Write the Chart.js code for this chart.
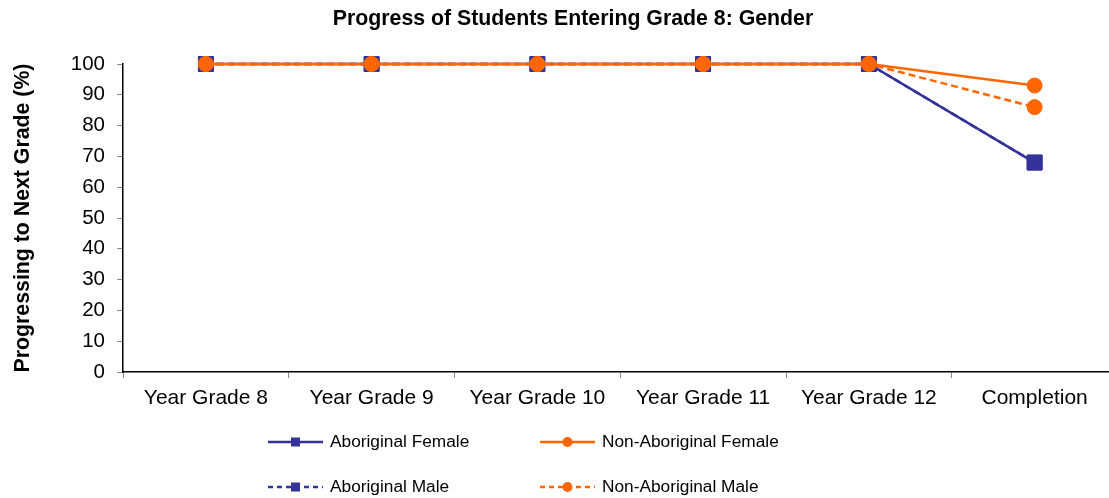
<!DOCTYPE html>
<html>
<head>
<meta charset="utf-8">
<script src="https://cdn.jsdelivr.net/npm/chart.js@4/dist/chart.umd.min.js"></script>
<style>
  html, body { margin: 0; padding: 0; background: #fff; overflow: hidden; }
  #wrap { width: 1129px; height: 498px; }
</style>
</head>
<body>
<div id="wrap"><canvas id="chart" width="1129" height="498"></canvas></div>
<script>
const categories = ['Year Grade 8', 'Year Grade 9', 'Year Grade 10', 'Year Grade 11', 'Year Grade 12', 'Completion'];
const aboriginalFemale = [100, 100, 100, 100, 100, 68];
const aboriginalMale = [100, 100, 100, 100, 100, 68];
const nonAboriginalFemale = [100, 100, 100, 100, 100, 93];
const nonAboriginalMale = [100, 100, 100, 100, 100, 86];
const yTicks = [0, 10, 20, 30, 40, 50, 60, 70, 80, 90, 100];

const NAVY = '#333399';
const ORANGE = '#FF6600';
const FONT = "'Liberation Sans', Arial, sans-serif";

function series(label, data, color, dashed, square) {
  return {
    label: label,
    data: data,
    borderColor: color,
    backgroundColor: color,
    borderWidth: 2.5,
    borderDash: dashed ? [7, 4] : [],
    pointStyle: square ? 'rect' : 'circle',
    pointRadius: square ? 10.5 : 7.5,
    pointBorderWidth: 1,
    pointBorderColor: color,
    pointBackgroundColor: color,
    order: square ? 2 : 1,
    clip: false,
    tension: 0
  };
}

// title drawn centred over the plot rather than the whole canvas
const titlePlugin = {
  id: 'plotTitle',
  afterDraw(chart) {
    const ctx = chart.ctx;
    ctx.save();
    ctx.font = 'bold 21.3px ' + FONT;
    ctx.fillStyle = '#000';
    ctx.textAlign = 'center';
    ctx.textBaseline = 'middle';
    ctx.fillText('Progress of Students Entering Grade 8: Gender', 573, 19);
    ctx.restore();
  }
};

// two-column legend below the axis
const legendPlugin = {
  id: 'gridLegend',
  afterDraw(chart) {
    const ctx = chart.ctx;
    const cols = [268, 540];
    const rows = [442, 487];
    const slots = [[0, 0], [0, 1], [1, 0], [1, 1]]; // [col, row] per dataset
    chart.data.datasets.forEach((ds, i) => {
      const x = cols[slots[i][0]];
      const y = rows[slots[i][1]];
      const len = 55;
      const cx = x + len / 2;
      ctx.save();
      ctx.strokeStyle = ds.borderColor;
      ctx.lineWidth = 2.5;
      ctx.setLineDash(ds.borderDash.length ? [5, 4] : []);
      ctx.beginPath();
      ctx.moveTo(x, y);
      ctx.lineTo(x + len, y);
      ctx.stroke();
      ctx.fillStyle = ds.backgroundColor;
      ctx.beginPath();
      if (ds.pointStyle === 'rect') {
        ctx.rect(cx - 4.5, y - 4.5, 9, 9);
      } else {
        ctx.arc(cx, y, 5, 0, Math.PI * 2);
      }
      ctx.fill();
      ctx.font = '17.3px ' + FONT;
      ctx.fillStyle = '#000';
      ctx.textAlign = 'left';
      ctx.textBaseline = 'middle';
      ctx.fillText(ds.label, x + len + 7, y);
      ctx.restore();
    });
  }
};

new Chart(document.getElementById('chart'), {
  type: 'line',
  data: {
    labels: categories,
    datasets: [
      series('Aboriginal Female', aboriginalFemale, NAVY, false, true),
      series('Aboriginal Male', aboriginalMale, NAVY, true, true),
      series('Non-Aboriginal Female', nonAboriginalFemale, ORANGE, false, false),
      series('Non-Aboriginal Male', nonAboriginalMale, ORANGE, true, false)
    ]
  },
  options: {
    responsive: false,
    animation: false,
    layout: { padding: { top: 64, left: 0, right: 0, bottom: 0 } },
    plugins: {
      legend: { display: false },
      title: { display: false },
      tooltip: { enabled: false }
    },
    scales: {
      x: {
        offset: true,
        grid: { offset: true, drawOnChartArea: false, tickLength: 6, color: '#888' },
        border: { color: '#000', width: 1.5 },
        ticks: { color: '#000', font: { family: FONT, size: 21 }, padding: 8, maxRotation: 0 },
        afterFit(scale) { scale.height = 126; }
      },
      y: {
        min: 0,
        max: 100,
        afterBuildTicks(scale) { scale.ticks = yTicks.map(v => ({ value: v })); },
        grid: { drawOnChartArea: false, tickLength: 6, color: '#888' },
        border: { color: '#000', width: 1.5 },
        ticks: { color: '#000', font: { family: FONT, size: 20.5 }, padding: 12 },
        title: {
          display: true,
          text: 'Progressing to Next Grade (%)',
          color: '#000',
          font: { family: FONT, size: 21.3, weight: 'bold' },
          padding: { top: 10, bottom: 0 }
        },
        afterFit(scale) { scale.width = 123; }
      }
    }
  },
  plugins: [titlePlugin, legendPlugin]
});
</script>
</body>
</html>
